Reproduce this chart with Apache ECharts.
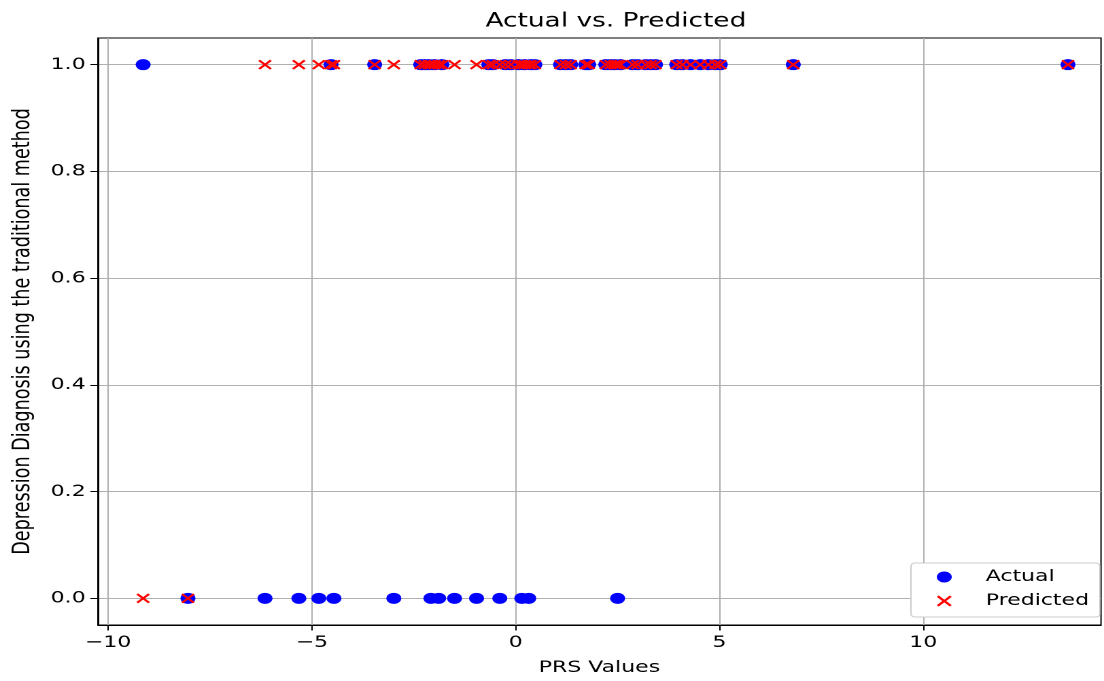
<!DOCTYPE html>
<html>
<head>
<meta charset="utf-8">
<script src="https://cdn.jsdelivr.net/npm/echarts@6/dist/echarts.min.js"></script>
<style>
html,body{margin:0;padding:0;background:#fff;overflow:hidden;}
#chart{width:812px;height:681px;transform:scaleX(1.3596);transform-origin:0 0;}
</style>
</head>
<body>
<div id="chart"></div>
<script>
// PRS values (x) for each sample
const prsValues = [
  -9.14, -8.04, -6.15, -5.32, -4.83, -4.46, -4.53, -3.46, -2.99,
  -2.33, -2.23, -2.13, -2.08, -1.99, -1.89, -1.81, -1.50, -0.96,
  -0.66, -0.56, -0.39, -0.25, -0.12, 0.07, 0.15, 0.22, 0.32, 0.37, 0.47,
  1.10, 1.23, 1.35, 1.72, 1.79, 2.21, 2.33, 2.43, 2.50, 2.57,
  2.87, 2.99, 3.19, 3.31, 3.43, 3.95, 4.09, 4.29, 4.53, 4.73, 4.90, 5.02,
  6.81, 13.55
];
// Actual diagnosis (0/1)
const actualLabels = [
  1, 0, 0, 0, 0, 0, 1, 1, 0,
  1, 1, 1, 0, 1, 0, 1, 0, 0,
  1, 1, 0, 1, 1, 1, 0, 1, 0, 1, 1,
  1, 1, 1, 1, 1, 1, 1, 1, 0, 1,
  1, 1, 1, 1, 1, 1, 1, 1, 1, 1, 1, 1,
  1, 1
];
// Predicted diagnosis (0/1)
const predictedLabels = [
  0, 0, 1, 1, 1, 1, 1, 1, 1,
  1, 1, 1, 1, 1, 1, 1, 1, 1,
  1, 1, 1, 1, 1, 1, 1, 1, 1, 1, 1,
  1, 1, 1, 1, 1, 1, 1, 1, 1, 1,
  1, 1, 1, 1, 1, 1, 1, 1, 1, 1, 1, 1,
  1, 1
];
const xTickValues = [-10, -5, 0, 5, 10];
const yTickValues = [0, 0.2, 0.4, 0.6, 0.8, 1.0];

const actualData = prsValues.map((x, i) => [x, actualLabels[i]]);
const predictedData = prsValues.map((x, i) => [x, predictedLabels[i]]);

const xMarker = 'path://M0,1.3 L1.3,0 L5,3.7 L8.7,0 L10,1.3 L6.3,5 L10,8.7 L8.7,10 L5,6.3 L1.3,10 L0,8.7 L3.7,5 Z';
const FONT = 'DejaVu Sans';
const FS = 16.2;

const chart = echarts.init(document.getElementById('chart'), null, {renderer: 'canvas', devicePixelRatio: 2});
chart.setOption({
  animation: false,
  backgroundColor: '#ffffff',
  title: {
    text: 'Actual vs. Predicted',
    left: 448,
    textAlign: 'center',
    top: 7,
    textStyle: {fontFamily: FONT, fontSize: 19.4, fontWeight: 'normal', color: '#000'}
  },
  legend: {
    orient: 'vertical',
    right: 3,
    bottom: 64,
    backgroundColor: '#ffffff',
    borderColor: '#cccccc',
    borderWidth: 1,
    borderRadius: 3,
    padding: [6, 8, 8, 19],
    itemGap: 8,
    itemWidth: 11,
    itemHeight: 11,
    textStyle: {fontFamily: FONT, fontSize: FS, color: '#000', padding: [0, 0, 0, 20]},
    data: ['Actual', 'Predicted']
  },
  grid: {
    left: 71.3, right: 2.2, top: 38, bottom: 56,
    show: true, borderColor: '#000', borderWidth: 1, backgroundColor: 'transparent'
  },
  xAxis: {
    type: 'value',
    min: -10.25,
    max: 14.36,
    name: 'PRS Values',
    nameLocation: 'middle',
    nameGap: 35,
    nameTextStyle: {fontFamily: FONT, fontSize: FS, color: '#000'},
    axisLine: {show: true, onZero: false, lineStyle: {color: '#000', width: 1}},
    axisTick: {show: true, length: 5.5, customValues: xTickValues, lineStyle: {color: '#000'}},
    axisLabel: {
      customValues: xTickValues,
      fontFamily: FONT, fontSize: FS, color: '#000', margin: 10,
      formatter: v => (v < 0 ? '\u2212' + Math.abs(v) : String(v))
    },
    splitLine: {show: true, lineStyle: {color: '#b0b0b0', width: 1}}
  },
  yAxis: {
    type: 'value',
    min: -0.05,
    max: 1.05,
    name: 'Depression Diagnosis using the traditional method',
    nameLocation: 'middle',
    nameGap: 46,
    nameTextStyle: {fontFamily: FONT, fontSize: 17.6, color: '#000'},
    axisLine: {show: true, onZero: false, lineStyle: {color: '#000', width: 1}},
    axisTick: {show: true, length: 5.5, customValues: yTickValues, lineStyle: {color: '#000'}},
    axisLabel: {
      customValues: yTickValues,
      fontFamily: FONT, fontSize: FS, color: '#000', margin: 9,
      formatter: v => Number(v).toFixed(1)
    },
    splitLine: {show: true, lineStyle: {color: '#b0b0b0', width: 1}}
  },
  series: [
    {
      name: 'Actual',
      type: 'scatter',
      data: actualData,
      symbol: 'circle',
      symbolSize: 11,
      itemStyle: {color: '#0000ff', opacity: 1}
    },
    {
      name: 'Predicted',
      type: 'scatter',
      data: predictedData,
      symbol: xMarker,
      symbolSize: 10,
      itemStyle: {color: '#ff0000', opacity: 1}
    }
  ]
});
</script>
</body>
</html>
